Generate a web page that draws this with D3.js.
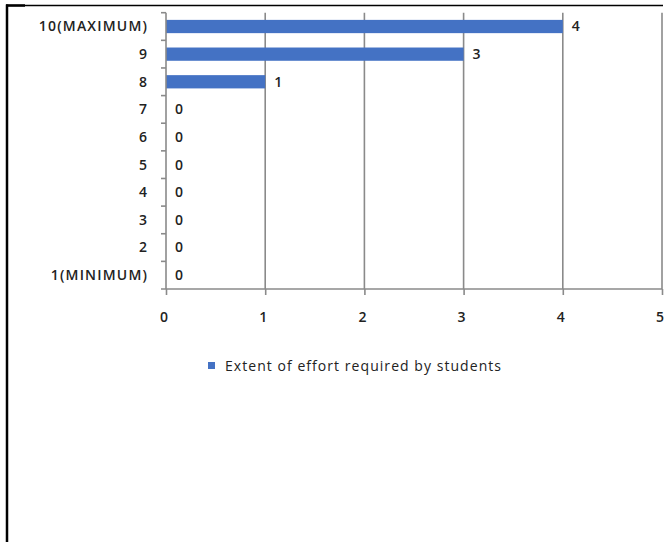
<!DOCTYPE html>
<html>
<head>
<meta charset="utf-8">
<script src="https://cdn.jsdelivr.net/npm/d3@7"></script>
<style>
  html, body { margin: 0; padding: 0; background: #fff; }
  svg { display: block; }
  text { font-family: "Open Sans", sans-serif; fill: #222; }
</style>
</head>
<body>
<svg id="chart" width="668" height="542"></svg>
<script>
// ---- data ----
const categories = ["10(MAXIMUM)", "9", "8", "7", "6", "5", "4", "3", "2", "1(MINIMUM)"];
const values = [4, 3, 1, 0, 0, 0, 0, 0, 0, 0];
const xTicks = [0, 1, 2, 3, 4, 5];
const seriesName = "Extent of effort required by students";

const svg = d3.select("#chart");

// frame lines
svg.append("line").attr("x1", 6).attr("x2", 663).attr("y1", 5.5).attr("y2", 5.5)
  .attr("stroke", "#000").attr("stroke-width", 1.5);
svg.append("line").attr("x1", 6).attr("x2", 25).attr("y1", 5.5).attr("y2", 5.5)
  .attr("stroke", "#000").attr("stroke-width", 2.5);
svg.append("line").attr("x1", 7).attr("x2", 7).attr("y1", 4.5).attr("y2", 542)
  .attr("stroke", "#000").attr("stroke-width", 2.5);

const x = d3.scaleLinear().domain([0, 5]).range([166, 662]);
const y = d3.scaleBand().domain(categories).range([12.7, 289]).paddingInner(0.52).paddingOuter(0.26);

// gridlines
svg.append("g").selectAll("line").data(xTicks.filter(d => d > 0)).join("line")
  .attr("x1", d => x(d)).attr("x2", d => x(d))
  .attr("y1", 12.7).attr("y2", 289)
  .attr("stroke", "#8a8a8a").attr("stroke-width", 1.6);

// bars
svg.append("g").selectAll("rect").data(values).join("rect")
  .attr("x", x(0))
  .attr("y", (d, i) => y(categories[i]))
  .attr("width", d => x(d) - x(0))
  .attr("height", y.bandwidth())
  .attr("fill", "#4472C4");

// x axis
const xAxis = d3.axisBottom(x).tickValues(xTicks).tickSize(6).tickPadding(17).tickFormat(d3.format("d"));
const gx = svg.append("g").attr("transform", "translate(0,289)").call(xAxis);
gx.select(".domain").attr("stroke", "#8a8a8a").attr("stroke-width", 1.6).attr("d", `M${x(0)-5},0H${x(5)}`);
gx.selectAll(".tick line").attr("stroke", "#8a8a8a").attr("stroke-width", 1.6);
gx.selectAll(".tick text").attr("font-family", "Open Sans").attr("font-size", 14).attr("font-weight", 600)
  .attr("fill", "#222").attr("dx", -2.5);

// y axis (ticks at band boundaries)
const gy = svg.append("g");
gy.append("line").attr("x1", x(0)).attr("x2", x(0)).attr("y1", 12.7).attr("y2", 289)
  .attr("stroke", "#8a8a8a").attr("stroke-width", 1.6);
const bounds = categories.map(c => y(c) - y.step() * y.paddingInner() / 2);
gy.selectAll("line.tk").data(bounds).join("line").attr("class", "tk")
  .attr("x1", x(0) - 5).attr("x2", x(0)).attr("y1", d => d).attr("y2", d => d)
  .attr("stroke", "#8a8a8a").attr("stroke-width", 1.6);
gy.selectAll("text").data(categories).join("text")
  .attr("x", 148.2).attr("y", d => y(d) + y.bandwidth() / 2)
  .attr("dy", "0.35em").attr("text-anchor", "end")
  .attr("font-size", 14).attr("font-weight", 600).attr("letter-spacing", 1.2)
  .text(d => d);

// data labels
svg.append("g").selectAll("text").data(values).join("text")
  .attr("x", d => x(d) + 9)
  .attr("y", (d, i) => y(categories[i]) + y.bandwidth() / 2)
  .attr("dy", "0.35em")
  .attr("font-size", 14).attr("font-weight", 600)
  .text(d => d);

// legend
const lg = svg.append("g");
lg.append("rect").attr("x", 208).attr("y", 362).attr("width", 7).attr("height", 7).attr("fill", "#4472C4");
lg.append("text").attr("x", 225).attr("y", 366).attr("dy", "0.35em")
  .attr("font-size", 14).attr("font-weight", 500).attr("letter-spacing", 1.05).text(seriesName);
</script>
</body>
</html>
